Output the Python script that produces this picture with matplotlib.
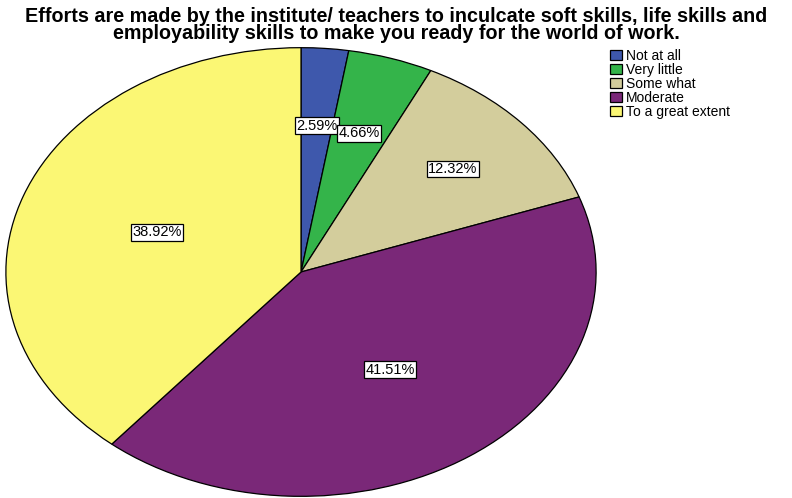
import numpy as np
import matplotlib.pyplot as plt

plt.rcParams['font.family'] = ['Liberation Sans', 'DejaVu Sans']

categories = ['Not at all', 'Very little', 'Some what', 'Moderate', 'To a great extent']
percents = [2.59, 4.66, 12.32, 41.51, 38.92]
colors = ['#3e58ac', '#34b44a', '#d3cd9c', '#7a2878', '#fbf774']
# how far out each label sits (fraction of radius)
label_dist = [0.655, 0.65, 0.69, 0.53, 0.52]

W, H = 792, 498
fig = plt.figure(figsize=(W / 100, H / 100), dpi=100)
ax = fig.add_axes([5 / W, 1 / H, 592 / W, 450 / H])

wedges, _ = ax.pie(percents, colors=colors, startangle=90, counterclock=False,
                   radius=1, wedgeprops=dict(edgecolor='black', linewidth=0.9))
ax.set_aspect('auto')
ax.set_xlim(-1.003, 1.003)
ax.set_ylim(-1.003, 1.003)
ax.axis('off')

for w, p, d in zip(wedges, percents, label_dist):
    ang = np.deg2rad((w.theta1 + w.theta2) / 2)
    ax.text(d * np.cos(ang), d * np.sin(ang), '%.2f%%' % p, ha='center', va='center',
            fontsize=10.5,
            bbox=dict(boxstyle='square,pad=0.1', facecolor='white', edgecolor='black', linewidth=0.9))

fig.text(0.5, 1 - 25 / H, 'Efforts are made by the institute/ teachers to inculcate soft skills, life skills and\n'
         'employability skills to make you ready for the world of work.',
         ha='center', va='center', fontsize=14.2, fontweight='bold', linespacing=0.85)

leg = fig.legend(wedges, categories, loc='upper left', bbox_to_anchor=(610 / W, 1 - 49 / H),
                 frameon=False, fontsize=10, handlelength=0.85, handleheight=0.65,
                 handletextpad=0.3, labelspacing=0.0, borderpad=0, borderaxespad=0)

fig.savefig('out.png', dpi=100)
